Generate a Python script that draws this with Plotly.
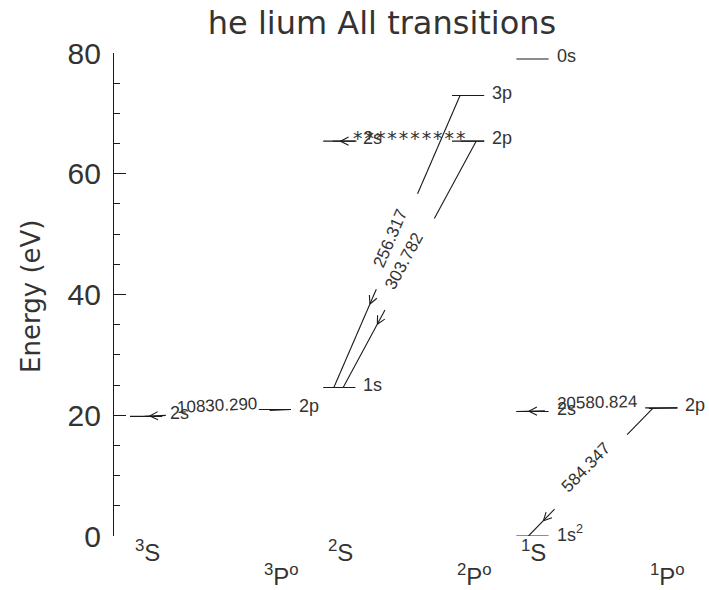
import math
import plotly.graph_objects as go

# Spectroscopic terms (columns), their slot on the diagram and label row
TERM_NAMES = ["<sup>3</sup>S", "<sup>3</sup>P<sup>o</sup>", "<sup>2</sup>S",
              "<sup>2</sup>P<sup>o</sup>", "<sup>1</sup>S", "<sup>1</sup>P<sup>o</sup>"]
TERM_SLOTS = [0, 2, 3, 5, 6, 8]
TERM_ROW = [0, 1, 0, 1, 0, 1]

# Energy levels: term index, configuration label, energy (eV)
LEVEL_TERM = [0, 1, 2, 2, 3, 3, 4, 4, 4, 5]
LEVEL_NAME = ["2s", "2p", "1s", "2s", "2p", "3p", "1s<sup>2</sup>", "2s", "0s", "2p"]
LEVEL_ENERGY = [19.820, 20.964, 24.587, 65.400, 65.400, 72.956, 0.0, 20.616, 79.005, 21.218]

# Transitions: upper level, lower level, wavelength label
TRANS_UPPER = [1, 9, 9, 5, 4, 4]
TRANS_LOWER = [0, 7, 6, 2, 2, 3]
TRANS_LABEL = ["10830.290", "20580.824", "584.347", "256.317", "303.782", "**********"]
# where each transition leaves / reaches its level bar (0 = left end, 1 = right end)
TRANS_FRAC_UP = [1.0, 1.0, 0.25, 0.25, 0.75, 1.0]
TRANS_FRAC_LO = [0.45, 0.0, 0.375, 0.33, 0.62, 0.3]

Y_TICKS = [0, 20, 40, 60, 80]

# ---- layout geometry ----
W, H = 709, 590
ML, MR, MT, MB = 114, 0, 53, 54
PLOT_W, PLOT_H = W - ML - MR, H - MT - MB
Y_MIN, Y_MAX = 0, 80
SLOT_PX = 64.4
X0 = -16 / SLOT_PX
X1 = X0 + PLOT_W / SLOT_PX
BAR = 0.5            # level bar length in slot units
SY = PLOT_H / (Y_MAX - Y_MIN)

LINE_COLOR = "#1a1a1a"
TEXT_COLOR = "#333333"
SMALL_FONT = "Liberation Sans"
BIG_FONT = "DejaVu Sans"
MONO_FONT = "DejaVu Sans Mono"


def to_px(x, y):
    return (x - X0) * SLOT_PX, (Y_MAX - y) * SY


def to_data(px, py):
    return X0 + px / SLOT_PX, Y_MAX - py / SY


fig = go.Figure()
annotations = []

# level bars and their labels
lx, ly = [], []
for t, name, e in zip(LEVEL_TERM, LEVEL_NAME, LEVEL_ENERGY):
    x = TERM_SLOTS[t]
    lx += [x, x + BAR, None]
    ly += [e, e, None]
    annotations.append(dict(x=x + BAR, y=e, xref="x", yref="y", text=name,
                            showarrow=False, xanchor="left", yanchor="middle",
                            xshift=6, yshift=3,
                            font=dict(family=SMALL_FONT, size=18, color=TEXT_COLOR)))
fig.add_trace(go.Scatter(x=lx, y=ly, mode="lines", cliponaxis=False,
                         line=dict(color=LINE_COLOR, width=1.1), hoverinfo="skip"))

# transitions: line broken around the wavelength label, with an open arrowhead
GAP = 52
ARROW_POS = 16
ARM = 9
ARM_ANGLE = math.radians(27)
tx, ty, ax, ay = [], [], [], []
for up, lo, lab, fu, fl in zip(TRANS_UPPER, TRANS_LOWER, TRANS_LABEL,
                               TRANS_FRAC_UP, TRANS_FRAC_LO):
    xu = TERM_SLOTS[LEVEL_TERM[up]] + BAR * fu
    xl = TERM_SLOTS[LEVEL_TERM[lo]] + BAR * fl
    pu = to_px(xu, LEVEL_ENERGY[up])
    pl = to_px(xl, LEVEL_ENERGY[lo])
    vx, vy = pl[0] - pu[0], pl[1] - pu[1]
    L = math.hypot(vx, vy)
    ux, uy = vx / L, vy / L
    mx, my = (pu[0] + pl[0]) / 2, (pu[1] + pl[1]) / 2
    g1 = (mx - ux * GAP, my - uy * GAP)
    g2 = (mx + ux * GAP, my + uy * GAP)
    for a, b in ((pu, g1), (g2, pl)):
        da, db = to_data(*a), to_data(*b)
        tx += [da[0], db[0], None]
        ty += [da[1], db[1], None]
    # arrowhead just past the label gap, pointing towards the lower level
    tip = (mx + ux * (GAP + ARROW_POS), my + uy * (GAP + ARROW_POS))
    for s in (1, -1):
        c, sn = math.cos(s * ARM_ANGLE), math.sin(s * ARM_ANGLE)
        # arm direction: the backwards vector (-u) turned by +/- ARM_ANGLE
        rx = -ux * c + uy * sn
        ry = -ux * sn - uy * c
        end = (tip[0] + rx * ARM, tip[1] + ry * ARM)
        dt, de = to_data(*tip), to_data(*end)
        ax += [dt[0], de[0], None]
        ay += [dt[1], de[1], None]
    # label along the line, baseline sitting on it
    dx, dy = (ux, uy) if ux > 0 else (-ux, -uy)
    ang = math.degrees(math.atan2(dy, dx))
    upx, upy = dy, -dx
    stars = set(lab) == {"*"}
    off = 3 if stars else 7
    md = to_data(mx, my)
    annotations.append(dict(x=md[0], y=md[1], xref="x", yref="y", text=lab,
                            showarrow=False, textangle=ang,
                            xanchor="center", yanchor="middle",
                            xshift=upx * off, yshift=-upy * off,
                            font=dict(family=MONO_FONT if stars else SMALL_FONT,
                                      size=19 if stars else 17, color=TEXT_COLOR)))

fig.add_trace(go.Scatter(x=tx, y=ty, mode="lines", cliponaxis=False,
                         line=dict(color=LINE_COLOR, width=1.1), hoverinfo="skip"))
fig.add_trace(go.Scatter(x=ax, y=ay, mode="lines", cliponaxis=False,
                         line=dict(color=LINE_COLOR, width=1.1), hoverinfo="skip"))

# term labels below the diagram, staggered in two rows
for name, slot, row in zip(TERM_NAMES, TERM_SLOTS, TERM_ROW):
    annotations.append(dict(x=slot, y=0, xref="x", yref="y", text=name,
                            showarrow=False, xanchor="left", yanchor="middle",
                            xshift=3, yshift=-15 if row == 0 else -39,
                            font=dict(family=SMALL_FONT, size=24, color=TEXT_COLOR)))

# y-axis title
annotations.append(dict(x=(31 - ML) / PLOT_W, y=0.495, xref="paper", yref="paper",
                        text="Energy (eV)", showarrow=False, textangle=-90,
                        xanchor="center", yanchor="middle",
                        font=dict(family=BIG_FONT, size=26, color=TEXT_COLOR)))

fig.update_layout(
    width=W, height=H,
    margin=dict(l=ML, r=MR, t=MT, b=MB, pad=0),
    paper_bgcolor="white", plot_bgcolor="white",
    showlegend=False,
    title=dict(text="he lium All transitions", x=382 / W, xanchor="center",
               y=1 - 23 / H, yanchor="middle",
               font=dict(family=BIG_FONT, size=32, color=TEXT_COLOR)),
    xaxis=dict(range=[X0, X1], visible=False),
    yaxis=dict(range=[Y_MIN, Y_MAX], tickvals=Y_TICKS, ticktext=[str(v) for v in Y_TICKS],
               showline=True, linecolor=LINE_COLOR, linewidth=1.1,
               ticks="inside", ticklen=12, tickwidth=1.1, tickcolor=LINE_COLOR,
               minor=dict(dtick=5, ticks="inside", ticklen=6, tickwidth=1.1,
                          tickcolor=LINE_COLOR, showgrid=False),
               showgrid=False, zeroline=False, ticklabelstandoff=6,
               tickfont=dict(family=SMALL_FONT, size=30, color=TEXT_COLOR)),
    annotations=annotations,
)

fig.write_html("out.html")
